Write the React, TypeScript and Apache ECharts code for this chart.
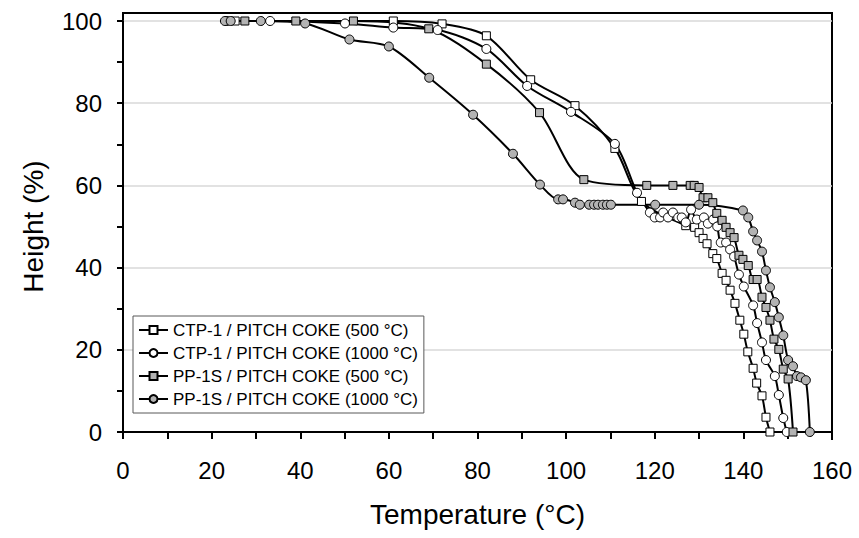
import React, { useEffect, useRef } from "react";
import * as echarts from "echarts";

const xTickLabels = [0, 20, 40, 60, 80, 100, 120, 140, 160];
const yTickLabels = [0, 20, 40, 60, 80, 100];

const seriesNames = [
  "CTP-1 / PITCH COKE (500 °C)",
  "CTP-1 / PITCH COKE (1000 °C)",
  "PP-1S / PITCH COKE (500 °C)",
  "PP-1S / PITCH COKE (1000 °C)",
];

const ctp500: [number, number][] = [
  [25.3, 100], [61, 100], [72, 99.3], [82, 96.4], [92, 85.7], [102, 79.4], [111, 69],
  [117, 56.1], [127, 50.2], [129, 49.8], [130, 48.5], [130.9, 47.1], [131.8, 45.8],
  [133.1, 43.4], [134, 42.2], [135.2, 38.6], [136.1, 36.9], [137, 34.5], [138.1, 31.3],
  [139.2, 27.2], [140.1, 23.8], [141, 19.5], [142.2, 15.5], [143, 11.9], [144.2, 8.8],
  [145.1, 3.6], [146, 0],
];

const ctp1000: [number, number][] = [
  [23.5, 100], [33.2, 100], [50.1, 99.4], [61, 98.4], [71, 97.8], [82, 93.2], [91.2, 84.2],
  [101.1, 77.9], [111, 70.1], [116, 58.2], [118.9, 53.4], [120, 52.2], [121.2, 52.2],
  [121.9, 53.4], [123, 52.2], [124.1, 53.4], [125.3, 52.2], [126.1, 52.2], [127, 51],
  [128.2, 54.1], [129.5, 51.7], [131.1, 52.2], [132, 50.7], [133.2, 51.7], [134.1, 50],
  [134.9, 46.1], [136.1, 46.1], [137, 44.4], [137.9, 42.7], [139, 38.3], [140.1, 35.4],
  [142.2, 30.8], [143.1, 26.5], [144.2, 21.8], [145.1, 17.5], [147.1, 13.6], [148, 9],
  [149, 3.4], [149.8, 0],
];

const pp500: [number, number][] = [
  [27.5, 100], [39, 100], [52, 100], [69, 98.1], [82, 89.5], [94, 77.7], [104, 61.4],
  [118.2, 60], [124.1, 60], [128, 60], [128.9, 60], [130, 59.5], [130.9, 57], [132, 57],
  [133.1, 55.8], [134, 53.2], [135.2, 51.5], [136.1, 49.8], [137, 48.5], [137.9, 47.3],
  [139, 43], [139.9, 42], [141.1, 40.5], [142.2, 37.1], [143.1, 37.1], [144.2, 32.8],
  [145.1, 30.3], [146, 27.2], [146.9, 22.6], [148, 20.1], [149, 15.3], [150.1, 12.9],
  [151.2, 0],
];

const pp1000: [number, number][] = [
  [23, 100], [24.3, 100], [31.1, 100], [41.1, 99.4], [51.1, 95.5], [60, 93.8], [69.1, 86.2],
  [79, 77.2], [88, 67.7], [94.1, 60.2], [98.2, 56.6], [99.3, 56.6], [102, 55.8],
  [103.1, 55.3], [105.2, 55.3], [106.3, 55.3], [107.2, 55.3], [108.3, 55.3], [109.2, 55.3],
  [110.1, 55.3], [120.1, 55.3], [130, 55.3], [139.9, 53.9], [141.1, 52.2], [142.2, 48.8],
  [143.1, 46.6], [144.2, 43.9], [145.1, 39.3], [146, 35.2], [147.1, 31.6], [148, 27.9],
  [149, 23.5], [150.1, 17.5], [151.2, 16], [152.1, 13.6], [153, 13.3], [154.1, 12.6],
  [155, 0],
];

const FONT = "'Liberation Sans', Arial, sans-serif";

export default function App() {
  const ref = useRef<HTMLDivElement>(null);

  useEffect(() => {
    if (!ref.current) return;
    const chart = echarts.init(ref.current, null, { renderer: "svg" });

    const mk = (name: string, data: [number, number][], symbol: string, fill: string, size: number) => ({
      name,
      type: "line",
      data,
      symbol,
      symbolSize: size,
      showAllSymbol: true,
      smooth: 0.3,
      lineStyle: { color: "#000", width: 2 },
      itemStyle: { color: fill, borderColor: "#000", borderWidth: 1 },
      emphasis: { disabled: true },
    });

    const tickStyle = { color: "#000", width: 2 };

    chart.setOption({
      animation: false,
      backgroundColor: "#fff",
      grid: { left: 123, right: 27, top: 21, bottom: 106 },
      xAxis: {
        type: "value",
        min: 0,
        max: 160,
        interval: 20,
        name: "Temperature (°C)",
        nameLocation: "middle",
        nameGap: 68,
        nameTextStyle: { fontSize: 28, color: "#000", fontFamily: FONT },
        axisLine: { show: true, lineStyle: tickStyle },
        axisTick: { show: true, length: 7, lineStyle: tickStyle },
        minorTick: { show: true, splitNumber: 2, length: 7, lineStyle: tickStyle },
        axisLabel: {
          fontSize: 24,
          color: "#000",
          fontFamily: FONT,
          margin: 26,
          formatter: (v: number) => (xTickLabels.includes(v) ? String(v) : ""),
        },
        splitLine: { show: false },
      },
      yAxis: {
        type: "value",
        min: 0,
        max: 100,
        interval: 20,
        name: "Height (%)",
        nameLocation: "middle",
        nameGap: 76,
        nameTextStyle: { fontSize: 28, color: "#000", fontFamily: FONT },
        axisLine: { show: true, lineStyle: tickStyle },
        axisTick: { show: true, length: 6, lineStyle: tickStyle },
        minorTick: { show: true, splitNumber: 2, length: 6, lineStyle: tickStyle },
        axisLabel: {
          fontSize: 24,
          color: "#000",
          fontFamily: FONT,
          margin: 21,
          formatter: (v: number) => (yTickLabels.includes(v) ? String(v) : ""),
        },
        splitLine: { show: true, lineStyle: { color: "#d9d9d9", width: 1.5 } },
      },
      legend: {
        orient: "vertical",
        left: 133,
        top: 316,
        itemWidth: 29,
        itemHeight: 10,
        itemGap: 3,
        padding: [4, 6, 4, 5],
        backgroundColor: "#fff",
        borderColor: "#595959",
        borderWidth: 1,
        textStyle: { fontSize: 17, color: "#000", fontFamily: FONT, lineHeight: 20 },
        data: seriesNames,
      },
      graphic: [
        {
          type: "polyline",
          silent: true,
          shape: { points: [[123, 432], [123, 13], [832, 13], [832, 440]] },
          style: { fill: "none", stroke: "#000", lineWidth: 2 },
        },
      ],
      series: [
        mk(seriesNames[0], ctp500, "rect", "#ffffff", 8),
        mk(seriesNames[1], ctp1000, "circle", "#ffffff", 9),
        mk(seriesNames[2], pp500, "rect", "#b3b3b3", 8),
        mk(seriesNames[3], pp1000, "circle", "#b3b3b3", 9),
      ],
    });

    return () => chart.dispose();
  }, []);

  return (
    <div
      ref={ref}
      style={{ position: "absolute", left: 0, top: 0, width: 859, height: 538 }}
    />
  );
}
